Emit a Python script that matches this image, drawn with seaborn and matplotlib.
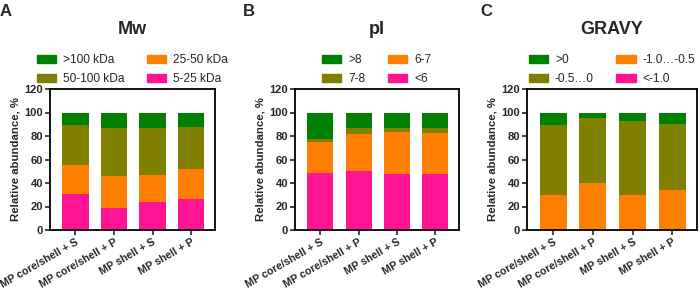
import numpy as np
import pandas as pd
import matplotlib.pyplot as plt
import seaborn as sns

samples = ['MP core/shell + S', 'MP core/shell + P', 'MP shell + S', 'MP shell + P']

# segment heights, bottom -> top
mw_labels = ['5-25 kDa', '25-50 kDa', '50-100 kDa', '>100 kDa']
mw_5_25 = [31.0, 19.0, 24.0, 26.5]
mw_25_50 = [24.5, 27.0, 23.0, 25.0]
mw_50_100 = [33.5, 40.5, 40.0, 36.5]
mw_100 = [11.0, 13.5, 13.0, 12.0]

pi_labels = ['<6', '6-7', '7-8', '>8']
pi_lt6 = [48.5, 50.0, 48.0, 47.5]
pi_6_7 = [26.5, 32.0, 35.0, 35.0]
pi_7_8 = [2.5, 4.5, 4.0, 4.0]
pi_gt8 = [22.5, 13.5, 13.0, 13.5]

gravy_labels = ['<-1.0', '-1.0\u2026-0.5', '-0.5\u20260', '>0']
gravy_lt_m1 = [0.0, 0.0, 0.0, 0.0]
gravy_m1_m05 = [29.8, 39.7, 29.8, 34.0]
gravy_m05_0 = [59.4, 55.8, 63.1, 55.8]
gravy_gt0 = [10.8, 4.5, 7.1, 10.2]

colors = ['#ff1493', '#ff8000', '#808000', '#008000']

sns.set_style('ticks')
plt.rcParams['font.family'] = ['Liberation Sans', 'DejaVu Sans']

fig = plt.figure(figsize=(7, 2.92), dpi=100)
H = 292.0
W = 700.0
panels = [
    ('A', 'Mw', mw_labels, [mw_5_25, mw_25_50, mw_50_100, mw_100], 50, 165, 0),
    ('B', 'pI', pi_labels, [pi_lt6, pi_6_7, pi_7_8, pi_gt8], 295, 164, 243),
    ('C', 'GRAVY', gravy_labels, [gravy_lt_m1, gravy_m1_m05, gravy_m05_0, gravy_gt0], 527, 170, 480),
]

for letter, title, labels, series, x0, w, lx in panels:
    ax = fig.add_axes([x0 / W, (H - 230) / H, w / W, 141 / H])
    tops = np.cumsum(np.array(series), axis=0)
    # draw cumulative totals from the top down so each layer overlays the next
    for i in range(len(series) - 1, -1, -1):
        df = pd.DataFrame({'sample': samples, 'value': tops[i]})
        sns.barplot(data=df, x='sample', y='value', color=colors[i], saturation=1,
                    width=0.68, linewidth=0, ax=ax)
    ax.set_ylim(0, 120)
    ax.set_yticks(range(0, 121, 20))
    ax.set_xlim(-0.66, 3.62)
    ax.set_xlabel('')
    ax.set_ylabel('Relative abundance, %', fontsize=8.2, fontweight='bold', labelpad=3)
    for s in ax.spines.values():
        s.set_linewidth(1.3)
        s.set_color('black')
    ax.tick_params(axis='both', length=3.5, width=1.2, labelsize=8, pad=1.5)
    ax.set_xticks(range(len(samples)))
    ax.set_xticklabels(samples, rotation=30, ha='right', rotation_mode='anchor',
                       fontsize=7.7, fontweight='bold')
    for t in ax.get_yticklabels():
        t.set_fontweight('bold')

    handles = [plt.Rectangle((0, 0), 1, 1, color=colors[i]) for i in [3, 2, 1, 0]]
    names = [labels[i] for i in [3, 2, 1, 0]]
    ax.legend(handles, names, ncol=2, loc='lower center', bbox_to_anchor=(0.5, 1.0),
              frameon=False, fontsize=8.6, handlelength=1.6, handleheight=0.6,
              columnspacing=1.9, labelspacing=0.6, handletextpad=0.6,
              borderaxespad=0.1, borderpad=0.2)
    ax.text(0.5, 1.42, title, transform=ax.transAxes, ha='center', va='center',
            fontsize=13, fontweight='bold')
    fig.text(lx / W, 1 - 11 / H, letter, ha='left', va='center', fontsize=12, fontweight='bold')

fig.savefig('out.png', dpi=100)
